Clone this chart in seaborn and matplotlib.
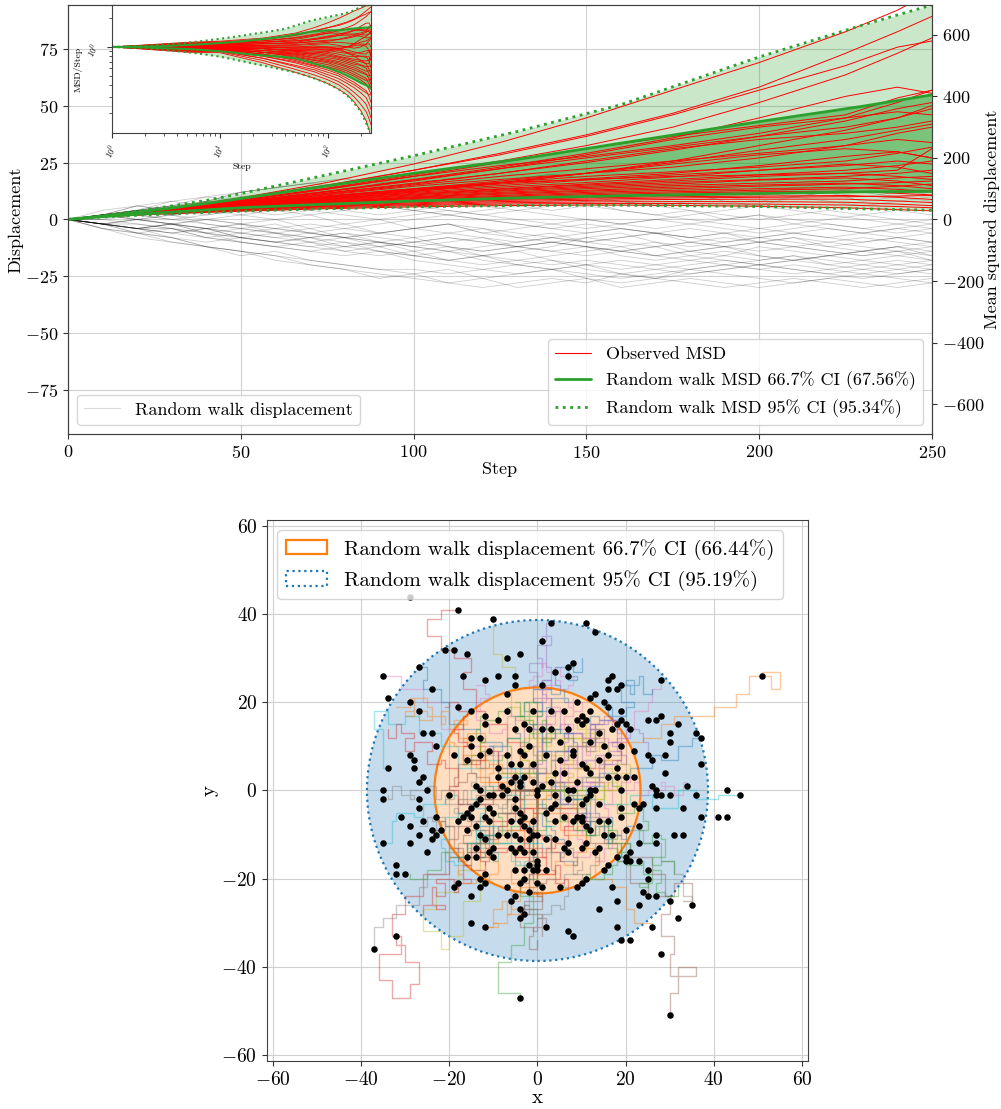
import re
import pandas as pd
import matplotlib
matplotlib.use("Agg")
import matplotlib.pyplot as plt
from matplotlib.lines import Line2D
from matplotlib.patches import Patch, Circle, Wedge
import seaborn as sns

# ---- top panel: 1D random walk displacement, read every 10 steps ----
walk_steps = list(range(0, 251, 10))
walks_1d = [
    [0, -2, -6, -8, -12, -14, -18, -20, -22, -26, -24, -28, -30, -28, -26, -28, -24, -26, -22, -24, -26, -28, -26, -24, -26, -28],
    [0, -4, -6, -10, -12, -16, -14, -18, -20, -22, -22, -24, -22, -20, -22, -26, -28, -26, -28, -30, -28, -26, -28, -30, -28, -26],
    [0, 2, 4, 6, 10, 12, 14, 16, 18, 14, 12, 16, 18, 20, 16, 14, 12, 10, 12, 8, 6, 10, 12, 8, 10, 12],
    [0, -2, -4, -2, -6, -8, -10, -12, -10, -14, -16, -18, -16, -14, -18, -20, -22, -20, -18, -20, -22, -24, -22, -20, -18, -20],
    [0, 2, 0, -2, -4, -2, -6, -8, -6, -10, -12, -10, -8, -12, -14, -12, -16, -18, -16, -14, -16, -18, -20, -18, -16, -18],
    [0, 2, 6, 8, 6, 10, 12, 14, 12, 16, 18, 16, 14, 18, 20, 18, 16, 14, 16, 12, 10, 14, 16, 18, 14, 12],
    [0, -2, 0, 2, -2, -4, -6, -4, -8, -10, -8, -12, -14, -12, -10, -12, -14, -16, -18, -16, -12, -14, -16, -14, -12, -14],
    [0, 4, 6, 4, 8, 10, 8, 6, 10, 12, 10, 8, 6, 4, 6, 8, 4, 2, 4, 0, 2, -2, 0, 2, 4, 2],
    [0, -2, -4, -6, -4, -8, -6, -10, -12, -10, -14, -12, -16, -14, -12, -8, -10, -12, -10, -8, -10, -12, -10, -8, -10, -12],
    [0, 2, 4, 2, 0, -2, 0, -4, -2, -6, -4, -2, -6, -8, -6, -10, -8, -6, -10, -12, -10, -8, -12, -14, -12, -10],
    [0, -2, -6, -4, -8, -10, -12, -10, -14, -16, -14, -18, -20, -18, -16, -14, -12, -16, -14, -12, -16, -18, -16, -14, -12, -16],
    [0, 2, 4, 8, 10, 8, 12, 14, 10, 8, 6, 10, 12, 14, 12, 10, 14, 16, 12, 14, 18, 16, 14, 12, 10, 8],
    [0, -2, 0, -2, -4, -6, -4, -2, -4, -6, -8, -6, -4, -8, -10, -8, -6, -10, -12, -10, -8, -6, -8, -6, -4, -6],
    [0, 2, 0, 2, 4, 2, 0, 2, -2, 0, -4, -2, -6, -4, -2, -4, -2, 0, -2, -4, -6, -4, -2, -4, -6, -4],
    [0, -4, -8, -10, -12, -14, -16, -18, -20, -22, -24, -22, -26, -24, -22, -24, -26, -24, -22, -20, -22, -20, -22, -24, -22, -20],
    [0, 2, 6, 4, 8, 12, 14, 16, 14, 12, 10, 14, 16, 18, 20, 18, 22, 20, 18, 16, 14, 16, 18, 20, 22, 20],
    [0, -2, -4, -2, 0, -2, -4, -6, -8, -6, -4, -2, -4, -6, -8, -10, -12, -10, -14, -16, -18, -16, -20, -22, -20, -18],
    [0, 0, -2, -4, -8, -10, -12, -14, -12, -10, -12, -14, -16, -18, -20, -18, -20, -22, -24, -22, -20, -22, -24, -22, -24, -22],
    [0, 2, 2, 4, 2, 4, 6, 4, 2, 0, 2, 4, 2, 0, -2, 0, -2, -4, -2, 0, 2, 0, -2, -4, -2, -4],
    [0, -2, -4, -8, -10, -8, -10, -12, -14, -12, -16, -18, -16, -20, -18, -22, -24, -22, -20, -18, -20, -18, -16, -18, -20, -22],
    [0, 2, 4, 6, 8, 6, 4, 6, 8, 6, 4, 2, 4, 6, 8, 10, 8, 6, 4, 2, 0, 2, 4, 2, 0, -2],
    [0, -2, 0, -2, -6, -8, -10, -8, -6, -8, -10, -8, -10, -12, -14, -16, -14, -12, -10, -12, -14, -12, -14, -16, -14, -12],
    [0, 2, 4, 6, 8, 12, 14, 16, 18, 16, 20, 18, 16, 18, 20, 22, 20, 18, 16, 14, 12, 14, 12, 10, 12, 14],
    [0, -2, -4, -2, -4, -6, -8, -10, -8, -12, -10, -8, -10, -12, -10, -12, -14, -16, -14, -12, -10, -8, -10, -12, -14, -16],
    [0, 2, 0, -2, 0, 2, 4, 2, 4, 6, 4, 2, 0, -2, -4, -6, -4, -6, -8, -6, -4, -6, -8, -10, -8, -6],
    [0, -4, -6, -8, -12, -14, -16, -20, -22, -24, -26, -28, -26, -30, -28, -26, -30, -28, -26, -28, -30, -28, -26, -28, -30, -28],
    [0, 2, 4, 2, 6, 4, 8, 10, 12, 14, 12, 10, 8, 10, 12, 10, 8, 6, 8, 10, 12, 10, 8, 6, 8, 10],
    [0, -2, -4, -6, -4, -2, -4, -6, -4, -2, 0, 2, 0, -2, -4, -2, -4, -6, -4, -6, -8, -10, -12, -10, -8, -10],
    [0, 2, 4, 2, 4, 6, 8, 6, 4, 2, 4, 6, 8, 6, 4, 6, 4, 2, 0, -2, -4, -2, -4, -6, -4, -2],
    [0, -2, -4, -6, -8, -6, -8, -6, -8, -10, -12, -14, -12, -10, -8, -10, -8, -6, -8, -10, -8, -6, -4, -6, -8, -10],
    [0, -2, -4, -2, -4, -8, -10, -8, -12, -14, -16, -14, -18, -20, -22, -20, -24, -26, -24, -22, -20, -22, -24, -26, -24, -22],
    [0, 2, 4, 6, 4, 8, 10, 12, 10, 14, 16, 14, 12, 10, 12, 14, 16, 14, 12, 10, 8, 10, 12, 14, 16, 18],
    [0, 0, 2, 0, -2, -4, -2, -6, -8, -6, -4, -6, -8, -10, -8, -6, -4, -6, -8, -6, -10, -12, -14, -16, -14, -18],
    [0, -2, -2, -4, -6, -4, -6, -8, -10, -12, -10, -12, -14, -12, -10, -12, -14, -12, -16, -18, -20, -18, -16, -14, -16, -14],
    [0, 2, 2, 0, 2, 4, 2, 4, 6, 8, 6, 4, 2, 4, 2, 0, -2, 0, 2, 4, 6, 4, 2, 0, -2, 0],
    [0, -2, -4, -4, -6, -10, -12, -14, -16, -14, -18, -20, -22, -24, -22, -20, -18, -20, -22, -20, -18, -16, -18, -20, -22, -24],
]

# ---- observed mean squared displacement curves ----
msd_steps = [0, 1, 5, 10, 25, 50, 75, 100, 125, 150, 175, 200, 225, 240, 250]
msd_curves = [
    [0, 1, 5.6, 11.5, 31, 70, 120, 180, 250, 330, 420, 510, 610, 680, 740],
    [0, 1, 5.5, 11.2, 30, 66, 110, 160, 215, 275, 345, 430, 540, 610, 660],
    [0, 1, 5.4, 11.0, 29, 63, 102, 145, 190, 240, 300, 380, 470, 540, 590],
    [0, 1, 5.3, 10.8, 28, 60, 98, 140, 185, 230, 270, 305, 340, 395, 420],
    [0, 1, 5.3, 10.6, 28, 58, 92, 130, 170, 215, 265, 330, 400, 430, 410],
    [0, 1, 5.2, 10.5, 27, 56, 90, 128, 165, 200, 235, 270, 300, 330, 360],
    [0, 1, 5.2, 10.4, 27, 55, 86, 118, 150, 185, 225, 270, 320, 360, 380],
    [0, 1, 5.1, 10.3, 26, 53, 82, 112, 140, 165, 190, 215, 240, 280, 300],
    [0, 1, 5.1, 10.2, 26, 52, 80, 108, 130, 150, 170, 200, 240, 260, 250],
    [0, 1, 5.0, 10.1, 25, 50, 77, 100, 125, 150, 180, 210, 230, 220, 200],
    [0, 1, 5.0, 10.0, 25, 49, 74, 98, 120, 140, 155, 170, 190, 215, 235],
    [0, 1, 5.0, 10.0, 25, 48, 72, 95, 115, 132, 150, 175, 205, 220, 200],
    [0, 1, 5.0, 10.0, 24, 47, 70, 92, 110, 128, 145, 160, 175, 190, 180],
    [0, 1, 5.0, 9.9, 24, 46, 68, 88, 105, 120, 138, 160, 180, 170, 150],
    [0, 1, 5.0, 9.9, 24, 45, 66, 85, 100, 115, 130, 145, 160, 175, 190],
    [0, 1, 4.9, 9.8, 24, 45, 64, 82, 98, 112, 125, 140, 150, 140, 130],
    [0, 1, 4.9, 9.8, 23, 44, 62, 80, 95, 108, 120, 130, 140, 150, 160],
    [0, 1, 4.9, 9.7, 23, 43, 60, 77, 92, 104, 115, 128, 135, 125, 110],
    [0, 1, 4.9, 9.7, 23, 42, 58, 74, 88, 100, 110, 118, 125, 135, 140],
    [0, 1, 4.8, 9.6, 22, 41, 57, 72, 85, 95, 105, 112, 118, 110, 100],
    [0, 1, 4.8, 9.6, 22, 40, 55, 70, 82, 92, 100, 108, 115, 120, 125],
    [0, 1, 4.8, 9.5, 22, 39, 54, 68, 78, 88, 95, 100, 105, 98, 90],
    [0, 1, 4.8, 9.5, 21, 38, 52, 65, 75, 84, 90, 95, 100, 108, 115],
    [0, 1, 4.7, 9.4, 21, 37, 50, 62, 72, 80, 86, 90, 92, 85, 80],
    [0, 1, 4.7, 9.4, 21, 36, 48, 60, 68, 75, 80, 84, 88, 92, 95],
    [0, 1, 4.7, 9.3, 20, 35, 47, 57, 65, 70, 74, 76, 78, 72, 65],
    [0, 1, 4.6, 9.2, 20, 34, 45, 54, 62, 66, 70, 72, 74, 76, 78],
    [0, 1, 4.6, 9.1, 19, 32, 43, 51, 58, 62, 65, 66, 66, 60, 55],
    [0, 1, 4.5, 9.0, 19, 31, 41, 48, 54, 57, 58, 58, 56, 50, 45],
    [0, 1, 4.5, 8.9, 18, 29, 38, 45, 50, 52, 52, 50, 47, 42, 38],
    [0, 1, 4.4, 8.7, 17, 27, 35, 41, 45, 47, 46, 43, 38, 32, 28],
    [0, 1, 5.5, 11.3, 30, 67, 112, 160, 210, 270, 340, 420, 500, 560, 580],
    [0, 1, 5.4, 11.0, 29, 62, 100, 140, 175, 205, 240, 280, 330, 380, 420],
    [0, 1, 5.3, 10.8, 28, 58, 90, 125, 165, 210, 260, 300, 330, 350, 340],
    [0, 1, 5.2, 10.6, 27, 55, 85, 115, 150, 190, 230, 260, 280, 300, 320],
    [0, 1, 5.0, 10.0, 25, 50, 75, 100, 120, 130, 140, 145, 150, 160, 230],
    [0, 1, 4.8, 9.6, 22, 42, 64, 90, 118, 150, 185, 225, 260, 290, 310],
    [0, 1, 4.9, 9.8, 24, 46, 70, 95, 120, 150, 190, 240, 290, 330, 370],
]

# ---- random walk MSD confidence bands ----
ci_steps = [0, 1, 2, 3, 5, 7, 10, 15, 20, 30, 40, 50, 70, 100, 130, 160, 200, 230, 250]
ci95_upper = [0, 1, 2.06, 3.18, 5.55, 8.1, 12.2, 19.5, 27.4, 44, 62, 84, 133, 207, 286, 373, 528, 632, 697]
ci66_upper = [0, 1, 2.02, 3.06, 5.25, 7.5, 11, 17.1, 23.6, 37.2, 52, 68, 101.5, 150, 195, 248, 318, 368, 405]
ci66_lower = [0, 1, 1.98, 2.91, 4.75, 6.5, 9, 12.9, 16.6, 24, 31.2, 38, 47.6, 60, 70, 77, 84, 90, 91]
ci95_lower = [0, 1, 1.94, 2.79, 4.4, 5.88, 7.9, 10.8, 13.4, 18.3, 22.8, 27, 33.6, 41, 45.5, 46.4, 42, 34.5, 30]

# ---- bottom panel: 2D lattice walks as move strings (direction + length) ----
walks_2d = [
    "u5l4u6l3u4l5u3l2u5l3u4r2u3l4u2l3u3l3u4r3u2r4",
    "l4u3l5u4l3d2l6u5l4u3l5u4l3d2l4u3l3d4r2d3d6r1",
    "u3l6u5l4u2l7u4l5u6l4u3l5u3l4",
    "d4l5d3l6d5l4d3l5d4l6d5l4d4l3d5r2d4l5d6r3d4r4u3r2u5l3u4l2u2",
    "l3d5l4d3l6d4l5d2l3d5l4d3l2d4l5d3l3d2l2d5",
    "d3l4d5l3d4l6d6l5d5l5d4l3d5r4d4r2u3r3u8r4u5",
    "d5r2d4l3d6r1d5l4d4r3d6l2d5l3d4l3d7r5d1",
    "r4d3r5d4r3d5r6d4r3d5r4d3r5d4l2d5r3d4l1d5r6u2l4d6l2d5",
    "r5u2r4u3r6u2r4u4r5u1r4u3r3u2r5r4u2r5u3r3u4r5d3r2u4l4d1",
    "r6d2r5u3r4d4r6u2r5d3r6u4r4d2r5u1r5",
    "r5d4r6d3r4d5r6d3r5d4r3d5r2u3r4d4l2",
    "u4r2u3l1u5r3u2l2u4r1u3l2u4r2u3l1u5r1u2l2d1r1u4r1",
    "r4u1r3d2r5u2r2u3r4d1r3u2r5u3r2d1r4u3r3u2r2",
    "d4l1d3l2d5r1d2l3d4l1d3r2d4l2d3l1d2l3d1l2",
    "l4d1l3u2l5d3l2d1l4u2l3d2l5d3l2u1l4d2l1d1d4l2",
    "r3u2r2u4r4u1l1u3r5u2r3d1r4u3r2u4r3u2r1u3r2u1u1",
    "d3r2d4r3d2r4u1r2d5r3d3l1d4r4d2r3d5r2d3r4d1",
    "l3u2l4u3l2u4r1u2l5u3l4u1l3u5l2u3l4u2r1u3l2",
    "l4d2l3d3l2d1r1d4l5d2l3d3l4u1l2d4l3d2l4u1",
    "r4d2r5d3r3d1r4d4r3u1r5d3r4d4r3d3r2d5r2d1d1",
    "u4l2u3l1u5r2u4l3u3l2u4r1u5l3u3l2u4u4",
    "u4r3u3r2r2u3r1u2l2u1r4d2r3u4l1u2r2d1r3u3l2u1r1d3r4u2r2u1l3u4r2d2r1u3l2d1r3u2r1d4r2u1",
    "l5u4l3u2l3u1l2u4r1u2l4d1l2u3r2u1l3d2l1u4l2d3r1u2l4u1l2d2r3u3l1u2l3d4l2u1r2u3l1d2l3",
    "d4r5d3r3d2r3d1r2u3r4d2l1d4r2d1r3u2l2d3r1d2r4u1d3r2d2l3d1r2u4r3d3l1d2r2d1r3u2",
    "l4d5l3d3l2d3l1d2r3d1l4u2l2d4r1d2l3u1l2d3r2d1l3d2l1u3l4d1r2d3l2u2l1d4r3d1l2u1l3d2",
    "u6r1u5u3r2u1l3u2r1u4l2d1r3u2l1u3r2d2l4u1r1u3l2u2r3d1u2l1u3r2",
    "d6l1d5d2l1d3r2d1l3d4r1u2r2d3l2d1r3d2l4d3r1u1l2d4r3d2l1d3r2u2",
    "r6u1r5r3u1r2d2r1u3r4d1l2d2r3u2r1d3r2u1r4u2l1d1r3d2r2u3r1d1",
    "l6d1l5l3d1l2u2l1d3l4u1r2u2l3d2l1u3l2d1l4d2r1u1l3u2l2d3l1u1",
    "u8r6u4r5r1u2l3u1r2d3l1d2r4u1r1u3l2d1l3d2r2d1l1u4r3d2l2u1r1d3l2u2r3u1l1d2",
    "d8l6d4l5u1l2d1l1d3r2u1r3d2l1u4l3u2r1d1r2u3r1d2l4d1l1u2r2d3r1u1l2d2r3u2",
    "u5l7u5l4r4u2r3u1l1u4r2u3r1d2r3u2l2u3r4d1r2u2l1u4r3d3r2u1l2u2r1d1r2u3",
    "d5r7d5r4d4l2d3l3u1l2d3l4d2r1d3l2u2l3d1l2d4r2d1l3u3l1d2l2d3r1d1l3",
    "r10u3r4r3d2r2d4l1d2r4u1r2d3r1d2l2d3r3u2r2d1r1d4l3d2r2u1r3d3",
    "l10d3l4l4u3l2u1r2u4l3u2l1d1l3u3r1u2l4d2l2u3r2u1l3u2l1d3l2u2",
    "u10l3u5r2d1r3u3r2u1r1d4r2d2l1u1r4d1r2u2r3d3l2u4r3u1r2d2r1d1",
    "d10r3d5d3r1d2l2d1l3u2l1d4r2d1r1d3l3u1l1d2r4d3l2d1r1u3r2d2l1d2",
    "r3u2r4u2u2l1u3r3u1r2d2r1u4l2u1l3u2r1d1l2u3r2u2l1u1r3d2l2u3",
    "l3d2l4d2l2u1l3d3l1d1l2u2l4u1r1d4l3d1l2u3r2d1l3u1l1d2l2",
    "u3l2u4l2u2r2u1r1d3r2u3l1u2r3d1l2u1r2u2l3d3r1u1r2d2l1u2r1",
    "d3r2d4r2d1l2d2r1d3l2u1l3d2r2d1l1d3l2u2r1d1l3u3l1d2r2d1",
    "r7d2r6d3r1d2r2d1l3d2l1u3r4u1r1d2l2d3r2d1l1u2r3d1r1u3r2",
    "l7u2l6u3l1u2l2u1r3u2r1d3l4d1l1u2r2u3l2u1r1d2l3u1l1d3",
    "u7r2u6r3u1l3u2l1d3l2d1r1u3l2u2r3u1l1u2l3d2r1d1l2u3l1",
    "d7l2d6l3d2r3d1r1u3r2d2r1d3l2d1r4u2r1d3l1d1r2u1r1d2",
    "r5u5r5u5r3u2l1u3r2u1r3d2r1d3l2d2r3d1l4d3l1u2l3d1l2u3l3u2r1u4l2d1l3d2l1d3r2d2r4u1r2d3r1u2r3u1r2d2l1d3l3d1r2d2",
    "l5d5l5d5l2d3r1d2l3u1l2d2l1u3l2u2r1u3r3u1l1u2l2u3r2d1r3u2r1d1r2u3l1u2l3u1l2d2l2d1l1u2r1u3r2u1r3d2r2u1",
    "r5d5r5d5u3r1u2r2d1r3u2l1u1r2u3l2u2l3d1l2u2l1d3l2d2r1d1l3d3r2d2l1d1r3d2r1d3l2d1r4u1r1d2r2u3r2u2",
    "l5u5l5u5d2l3d1l2d3r1d2l1d1r3d2r2u1r3d3l1d2r2u2r1u3r2u1l1u3r2u2r1d2r3u1l2u3l1u2l3u1",
    "u12r8r2d2r1d1r3u1r2d3l1d2r2d1r1u2r3d2l2d3l1d1l3d2l2u1l3d1l1u2l2u3r1u1l2u2r2u1",
    "d12l8l3u2l2u1l1d3l2d1r1d2l3d2l1u1l2u3l1u2r2u3l1u2r3u1r2d1r1u3r2u1",
    "r12d8u2l2u1r1u3l3u1l1d2l2u3r1u2l2d1l1d3l2d2r1d1l1d3r2d1r1d2r2d3l1d2r3d1r1u1",
    "l12u8d3r2d1l1d2r3d1r2u2r1u1r3d2r1d3l2d1l2d2r1d3r3u2r1u3r2u1r1u3l1u2r2u2",
    "u4l9u3r1u1r2u2l1u2r3d1r2u2r1u3l2u1l3u2l1d1l2d2l3u1l1d3l1d2r2d1l1d2r1d1l3d2l2",
    "d4r9d3l1d1l2d2r1d2l3d1l1u2l2u1l2u3r1u2l1u1l2d3l1d2r2d2l1d3r3d1r2u2r1d1r2d2",
    "r4u9r3u1r3u1r1d2r2u3r1u2l2u1r3u2r2d1r1d3r1d2l2d1r2d3l1d1l3u1l2d2l1d1",
    "l4d9l3d1l3d1l1u2l2d3l1d2r2d1l3d2l2u1l1u3l2u2r1u3l2u1l1d2l1d1",
    "u15r2r2u3r1u1l2u2l1u3r2u1r1d2r2u1r1u2l3u2l1d1l2u2l1d3l2d1l1d2",
    "d15l2d2r1d3l2d1l1d2r2d3l1d1r3d2r1u1r2u2r2d1r1u3r1u2l1u3r3u1r1u2",
    "r15u2l2u1l1u3l2d1l2u2l1u1r2u2l3d1l2d2l1d3r1d1l2d2l1d1r3d3r1d1",
    "l15d2r1d2r2d1l1d3r3d2r1u1r2d1r1u3r2u2l1u1r2u3r1u1l3u2r1u3l2u1",
    "u9r9u2l1u2l3u1l1d2l1d1l2u3l2u1r1u3r2u1r1u2r3d1r1u1l1u2",
    "d9l9d3l1d1l2d2r2d1r1d3l2d2l1u1l2d1l3u2l1u2r1u3l2u1l1d3",
    "r9d9r2d1r3u2r1u1r1d2r2d2l1d1r2d3r1d1l2d1l1d2l2d1l3u1l2",
    "l9u9l3d2l1d1l2u1l2u3r1u1l2u2l1u1r2u3r1u1l2u2l2d1l1",
    "u2r14u1r1u3r2u1r2d1r1u2l1u1l1u3r3u2r2d1r1d2r1d3",
    "d2l14d1r2d3r1d1l3d2l1d1l2d2r1d2r2u1r1d1r2d2l1d1",
    "u14l2l1u2l2u1l2d3l1d1l3u2l1u1l2u2r1u3r2u1l1u2l2",
    "d14r2r3d1r1u2r2d2r1d1l1d3r2d1r1u1r1u2r2u2l1u3",
    "r18u4d2l2d1l1d3l2u1l1d2l3d1l1u3l2u2l1u1l2d2l1d3",
]
walk_colors = [
    "tab:red", "tab:cyan", "tab:pink", "tab:red", "tab:gray", "tab:olive", "tab:green",
    "tab:brown", "tab:orange", "tab:cyan", "tab:brown", "tab:purple", "tab:blue",
    "tab:orange", "tab:cyan", "tab:pink", "tab:orange", "tab:blue", "tab:green",
    "tab:gray", "tab:olive",
    "tab:blue", "tab:orange", "tab:green", "tab:red", "tab:purple", "tab:brown",
    "tab:pink", "tab:gray", "tab:olive", "tab:cyan", "tab:blue", "tab:orange",
    "tab:green", "tab:red", "tab:purple", "tab:brown", "tab:pink", "tab:gray",
    "tab:olive", "tab:cyan", "tab:blue", "tab:orange", "tab:green", "tab:red",
    "tab:purple", "tab:brown", "tab:pink", "tab:gray", "tab:olive", "tab:cyan",
    "tab:blue", "tab:orange", "tab:green", "tab:red", "tab:purple", "tab:brown",
    "tab:pink", "tab:gray", "tab:olive", "tab:cyan", "tab:blue", "tab:orange",
    "tab:green", "tab:red", "tab:purple", "tab:brown", "tab:pink", "tab:gray",
    "tab:olive",
]

end_x = [-29, -18, -10, -21, -19, -16, -27, -35, -34, -24, -29, -27, -26, -24, -23, -29, -28, -34, -28, -26,
         -27, -35, -17, -18, -15, -12, -9, -7, -4, -5, -5, -7, -7, -9, -12, -12, -5, -3, -1, -2,
         -15, -13, -15, -13, -16, -19, -20, -11, -7, -4, -2, -3, -6, -4, -1, -9, -9, -5, -3, -8,
         -6, -4, -1, -7, -4, 0, -13, -11, -14,
         3, 11, 13, 1, 8, 7, 4, 7, 17, 16, 16, 19, 18, 1, 28, 51, 13, 15, 9, 12,
         16, 3, 6, 12, 19, 10, 11, 9, 10, 19, 18, 20, 21, 25, 27, 28, 32, 30, 30, 36,
         37, 1, 3, 7, 14, 17, 19, 25, 26, 29, 29, 37, 34, 26, 27, 30, 36, 43, 46, 8,
         8, 14, 16, 11, 12, 10, 16, 18, 20, 22, 18, 6, 4, 3, 1, 9, 12, 8, 4, 19,
         5, 2, 12, 15, 22, 5,
         -35, -31, -29, -27, -27, -26, -27, -24, -23, -22, -24, -29, -35, -25, -32, -32, -30, -23, -25, -18,
         -17, -16, -16, -15, -15, -14, -13, -14, -12, -11, -11, -12, -13, -14, -16, -14, -11, -10, -10, -9,
         -10, -10, -8, -7, -6, -5, -5, -4, -4, -5, -4, -3, -3, -2, -1, -1, -2, -4, -6, -3,
         -1, -5, -2, 0, -5, -3, -1, -3, -4, -2, 0, -12, -13, -13, -12, -7, -19, -18, -15, -6,
         -5, -4, -3, -4, -15, -12, -32, -37, -4,
         0, 7, 7, 4, 10, 12, 13, 11, 14, 19, 19, 22, 24, 23, 27, 27, 28, 33, 37, 41,
         43, 3, 2, 6, 4, 8, 10, 9, 10, 11, 12, 14, 16, 15, 17, 20, 23, 27, 27, 31,
         33, 23, 0, 2, 4, 6, 7, 7, 10, 11, 13, 14, 18, 20, 21, 20, 21, 23, 25, 25,
         24, 25, 27, 30, 35, 32, 26, 28, 30, 19, 21, 18, 14, 18, 17, 23, 7, 8, 2, 9,
         10, 11, 5, 1, 15, 16, 2, 0, 0]
end_y = [44, 41, 39, 32, 32, 31, 28, 26, 21, 23, 20, 18, 13, 13, 10, 8, 7, 5, 5, 3,
         2, 0, 26, 19, 18, 25, 26, 30, 31, 26, 24, 22, 18, 16, 17, 15, 14, 15, 18, 14,
         12, 12, 10, 8, 7, 8, -1, 9, 8, 9, 10, 8, 6, 6, 6, 5, 3, 3, 3, 1,
         2, 2, 2, 0, 1, 0, 0, -1, 1,
         38, 38, 36, 34, 29, 28, 27, 26, 26, 25, 23, 24, 23, 24, 25, 26, 22, 20, 20, 21,
         19, 18, 18, 18, 18, 17, 16, 16, 15, 16, 15, 15, 14, 16, 16, 17, 15, 13, 11, 13,
         12, 14, 14, 14, 13, 14, 10, 8, 7, 8, 4, 6, 1, 1, 0, -1, -1, 0, -1, 9,
         8, 7, 8, 5, 4, 6, 3, 3, 3, 3, 5, 4, 4, 2, 1, 2, 0, 0, -1, 0,
         11, 8, 11, 10, 9, 7,
         -2, -6, -8, -2, -4, -7, -10, -9, -10, -9, -11, -12, -12, -14, -17, -19, -19, -6, 0, -7,
         -6, -5, -9, -6, -4, -3, -2, -8, -6, -4, -7, -11, -10, -13, -15, -15, -14, -13, -15, -10,
         -5, -1, -1, -10, -7, -4, -2, -5, -7, -10, -11, -6, -8, -9, -7, -10, -11, -13, -13, -14,
         -14, -14, -17, -17, -18, -18, -18, -20, -21, -23, -21, -19, -20, -22, -21, -22, -22, -21, -24, -25,
         -24, -27, -28, -29, -30, -31, -33, -36, -47,
         -1, 0, -2, -3, -3, -1, 0, -2, -3, -4, -6, -3, -3, -4, -4, -1, -1, -4, -6, -6,
         -6, -4, -5, -6, -7, -7, -6, -6, -7, -8, -9, -7, -7, -10, -10, -9, -8, -10, -12, -10,
         -10, -12, -10, -11, -11, -13, -12, -14, -13, -12, -14, -13, -15, -16, -14, -15, -16, -16, -18, -20,
         -23, -24, -24, -25, -26, -29, -31, -37, -51, -34, -34, -31, -27, -25, -22, -26, -32, -33, -31, -22,
         -21, -20, -22, -22, -18, -17, -18, -18, -16]

ci_center = (0, 0)
r66 = 23.4
r95 = 38.7


def trace(moves):
    x, y = 0, 0
    pts = [(x, y)]
    for d, n in re.findall(r"([udlr])(\d+)", moves):
        n = int(n)
        if d == "r":
            x += n
        elif d == "l":
            x -= n
        elif d == "u":
            y += n
        else:
            y -= n
        pts.append((x, y))
    return pts


sns.set_style("ticks")
plt.rcParams["font.family"] = "serif"
plt.rcParams["font.serif"] = ["cmr10"]
plt.rcParams["mathtext.fontset"] = "cm"
plt.rcParams["axes.formatter.use_mathtext"] = True
plt.rcParams["text.color"] = "black"
plt.rcParams["axes.labelcolor"] = "black"
plt.rcParams["xtick.color"] = "0.2"
plt.rcParams["ytick.color"] = "0.2"
plt.rcParams["xtick.labelcolor"] = "black"
plt.rcParams["ytick.labelcolor"] = "black"
plt.rcParams["axes.edgecolor"] = "0.25"

fig = plt.figure(figsize=(10.01, 11.09), dpi=100)
ax1 = fig.add_axes([0.0679, 0.6087, 0.8631, 0.3868])
ax2 = ax1.twinx()
axin = fig.add_axes([0.1119, 0.8801, 0.2587, 0.1154])
ax3 = fig.add_axes([0.2667, 0.0424, 0.5405, 0.4896])

# top: displacement walks
df1 = pd.DataFrame([(i, s, v) for i, w in enumerate(walks_1d) for s, v in zip(walk_steps, w)],
                   columns=["walk", "step", "disp"])
sns.lineplot(data=df1, x="step", y="disp", units="walk", estimator=None,
             color="black", alpha=0.2, lw=0.6, ax=ax1)
ax1.set_xlim(0, 250)
ax1.set_ylim(-94.6, 94.6)
ax1.set_xticks(range(0, 251, 50))
ax1.set_yticks([-75, -50, -25, 0, 25, 50, 75])
ax1.grid(True, color="0.82", lw=0.8)
ax1.tick_params(labelsize=13)
ax1.set_xlabel("Step", fontsize=13, labelpad=1)
ax1.set_ylabel("Displacement", fontsize=13, labelpad=1)
ax1.legend(handles=[Line2D([], [], color="0.85", lw=0.8)], labels=["Random walk displacement"],
           loc="lower left", fontsize=13)

# top: MSD (twin axis)
df2 = pd.DataFrame([(i, s, v) for i, c in enumerate(msd_curves) for s, v in zip(msd_steps, c)],
                   columns=["curve", "step", "msd"])
ax2.fill_between(ci_steps, ci95_lower, ci95_upper, color="tab:green", alpha=0.25, lw=0)
ax2.fill_between(ci_steps, ci66_lower, ci66_upper, color="tab:green", alpha=0.5, lw=0)
sns.lineplot(data=df2, x="step", y="msd", units="curve", estimator=None,
             color="red", lw=0.7, ax=ax2)
for band, ls in [(ci66_upper, "-"), (ci66_lower, "-"), (ci95_upper, ":"), (ci95_lower, ":")]:
    sns.lineplot(x=ci_steps, y=band, estimator=None, color="tab:green", lw=2, ls=ls, ax=ax2)
ax2.set_ylim(-697, 697)
ax2.set_yticks([-600, -400, -200, 0, 200, 400, 600])
ax2.tick_params(labelsize=13)
ax2.set_ylabel("Mean squared displacement", fontsize=13, labelpad=0)
ax2.grid(False)
ax2.legend(handles=[Line2D([], [], color="red", lw=0.8),
                    Line2D([], [], color="tab:green", lw=2),
                    Line2D([], [], color="tab:green", lw=2, ls=":")],
           labels=["Observed MSD", "Random walk MSD 66.7% CI (67.56%)",
                   "Random walk MSD 95% CI (95.34%)"],
           loc="lower right", fontsize=13)

# inset: MSD / step on log axes
axin.set_xscale("log")
axin.set_yscale("log")
dfin = df2[df2["step"] > 0].copy()
dfin["ratio"] = dfin["msd"] / dfin["step"]
ci_df = pd.DataFrame({"step": ci_steps, "u95": ci95_upper, "l95": ci95_lower,
                      "u66": ci66_upper, "l66": ci66_lower})
ci_df = ci_df[ci_df["step"] > 0]
for col in ["u95", "l95", "u66", "l66"]:
    ci_df[col] = ci_df[col] / ci_df["step"]
axin.fill_between(ci_df["step"], ci_df["l95"], ci_df["u95"], color="tab:green", alpha=0.25, lw=0)
axin.fill_between(ci_df["step"], ci_df["l66"], ci_df["u66"], color="tab:green", alpha=0.5, lw=0)
sns.lineplot(data=dfin, x="step", y="ratio", units="curve", estimator=None,
             color="red", lw=0.6, ax=axin)
for col, ls in [("u66", "-"), ("l66", "-"), ("u95", ":"), ("l95", ":")]:
    sns.lineplot(data=ci_df, x="step", y=col, estimator=None, color="tab:green", lw=1.5, ls=ls, ax=axin)
axin.set_xlim(1, 250)
axin.set_ylim(0.124, 2.77)
axin.tick_params(which="major", labelsize=6, labelrotation=60)
axin.set_xlabel("Step", fontsize=7, labelpad=1)
axin.set_ylabel("MSD/Step", fontsize=7, labelpad=1)

# bottom: 2D walks and end points
rows = []
for i, mv in enumerate(walks_2d):
    for k, (x, y) in enumerate(trace(mv)):
        rows.append((f"w{i:02d}", k, x, y))
df3 = pd.DataFrame(rows, columns=["walk", "k", "x", "y"])
palette = {f"w{i:02d}": walk_colors[i % len(walk_colors)] for i in range(len(walks_2d))}
sns.lineplot(data=df3, x="x", y="y", hue="walk", units="walk", estimator=None, sort=False,
             palette=palette, legend=False, lw=1.0, alpha=0.4, ax=ax3)
ax3.add_patch(Wedge(ci_center, r95, 0, 360, width=r95 - r66, facecolor="tab:blue", alpha=0.25, lw=0))
ax3.add_patch(Circle(ci_center, r66, facecolor="tab:orange", alpha=0.25, lw=0))
ax3.add_patch(Circle(ci_center, r95, fill=False, edgecolor="tab:blue", ls=":", lw=1.6))
ax3.add_patch(Circle(ci_center, r66, fill=False, edgecolor="tab:orange", lw=1.6))
sns.scatterplot(x=end_x, y=end_y, color="black", s=22, linewidth=0, zorder=3, ax=ax3)
ax3.set_xlim(-61.4, 61.4)
ax3.set_ylim(-61.4, 61.4)
ax3.set_aspect("equal")
ax3.set_xticks(range(-60, 61, 20))
ax3.set_yticks(range(-60, 61, 20))
ax3.grid(True, color="0.82", lw=0.8)
ax3.tick_params(labelsize=14)
ax3.set_xlabel("x", fontsize=15, labelpad=0)
ax3.set_ylabel("y", fontsize=15, labelpad=2)
ax3.legend(handles=[Patch(facecolor="none", edgecolor="tab:orange", lw=1.6),
                    Patch(facecolor="none", edgecolor="tab:blue", lw=1.6, ls=":")],
           labels=["Random walk displacement 66.7% CI (66.44%)",
                   "Random walk displacement 95% CI (95.19%)"],
           loc="upper left", fontsize=15)

fig.savefig("out.png", dpi=100)
